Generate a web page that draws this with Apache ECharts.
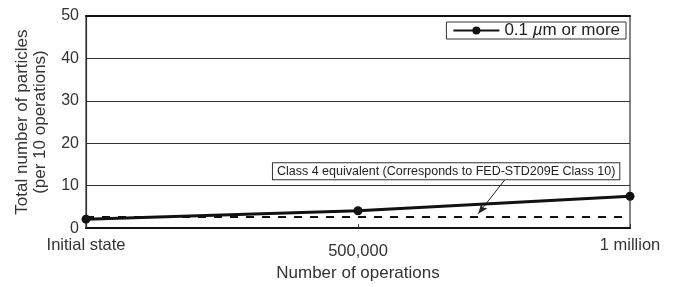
<!DOCTYPE html>
<html><head><meta charset="utf-8">
<script src="https://cdn.jsdelivr.net/npm/echarts@6/dist/echarts.min.js"></script>
<style>html,body{margin:0;padding:0;background:#fff}#c{width:678px;height:287px}</style>
</head><body><div id="c"></div>
<script>
const operations = [0, 500000, 1000000];
const tickLabels = {0: 'Initial state', 500000: '500,000', 1000000: '1 million'};
const particles = [2.1, 4.1, 7.5];
const class4Level = 2.6;
const seriesName = '0.1 µm or more';
const noteText = 'Class 4 equivalent (Corresponds to FED-STD209E Class 10)';

const chart = echarts.init(document.getElementById('c'));
const FONT = 'Liberation Sans';
const TXT = '#333';
chart.setOption({
  animation: false,
  textStyle: {fontFamily: FONT},
  grid: {left: 86, right: 48, top: 16, bottom: 57, show: true, borderColor: '#333', borderWidth: 1.2},
  legend: {
    right: 52, top: 22, orient: 'horizontal',
    borderColor: '#333', borderWidth: 1, borderRadius: 0,
    padding: [0, 6, 0, 6], itemWidth: 46, itemHeight: 10, itemGap: 4,
    textStyle: {fontSize: 17, color: '#222', fontFamily: FONT},
    formatter: () => '0.1 {i|µ}m or more',
    data: [{name: seriesName, textStyle: {rich: {i: {fontStyle: 'italic', fontSize: 17, color: '#222', fontFamily: FONT}}}}]
  },
  xAxis: [{
    type: 'value', min: 0, max: 1000000, interval: 500000,
    name: 'Number of operations', nameLocation: 'middle', nameGap: 35,
    nameTextStyle: {fontSize: 17, color: TXT},
    axisLine: {lineStyle: {color: '#111', width: 2.2}},
    axisTick: {show: true, inside: true, length: 4, lineStyle: {color: '#333'}},
    splitLine: {show: false},
    axisLabel: {
      fontSize: 16.5, color: TXT, margin: 9,
      formatter: v => v === 500000 ? '{m|' + tickLabels[v] + '}' : tickLabels[v],
      rich: {m: {fontSize: 16.5, color: TXT, padding: [6, 0, 0, 0], fontFamily: FONT}}
    }
  }, {
    type: 'value', position: 'top', min: 0, max: 1000000,
    axisLine: {show: true, lineStyle: {color: '#111', width: 2}},
    axisTick: {show: false}, axisLabel: {show: false}, splitLine: {show: false}
  }],
  yAxis: {
    type: 'value', min: 0, max: 50, interval: 10,
    name: 'Total number of particles\n(per 10 operations)', nameLocation: 'middle', nameGap: 37,
    nameTextStyle: {fontSize: 17, color: TXT, lineHeight: 18},
    axisLine: {show: true, lineStyle: {color: '#333', width: 1.2}},
    axisTick: {show: false},
    axisLabel: {fontSize: 16, color: TXT, margin: 7},
    splitLine: {lineStyle: {color: '#333', width: 1}}
  },
  series: [{
    name: seriesName, type: 'line',
    data: operations.map((x, i) => [x, particles[i]]),
    symbol: 'circle', symbolSize: 9,
    lineStyle: {color: '#111', width: 3},
    itemStyle: {color: '#111'},
    z: 5,
    markLine: {
      silent: true, animation: false,
      label: {show: false},
      data: [
        [{coord: [0, class4Level], symbol: 'none', lineStyle: {type: [8, 8], color: '#111', width: 2}},
         {coord: [1000000, class4Level], symbol: 'none'}],
        [{coord: [770000, 11.4], symbol: 'none', lineStyle: {type: 'solid', color: '#222', width: 1}},
         {coord: [721000, 3.4], symbol: 'arrow', symbolSize: [6, 10]}]
      ]
    },
    markPoint: {
      silent: true, symbol: 'rect', symbolSize: 0,
      data: [{coord: [662000, 13.4], value: 0}],
      label: {
        show: true, position: 'inside', formatter: noteText,
        fontSize: 12.5, color: '#222', fontFamily: FONT,
        backgroundColor: '#fff', borderColor: '#333', borderWidth: 1,
        padding: [2, 4, 1, 4]
      }
    }
  }]
});
</script></body></html>
